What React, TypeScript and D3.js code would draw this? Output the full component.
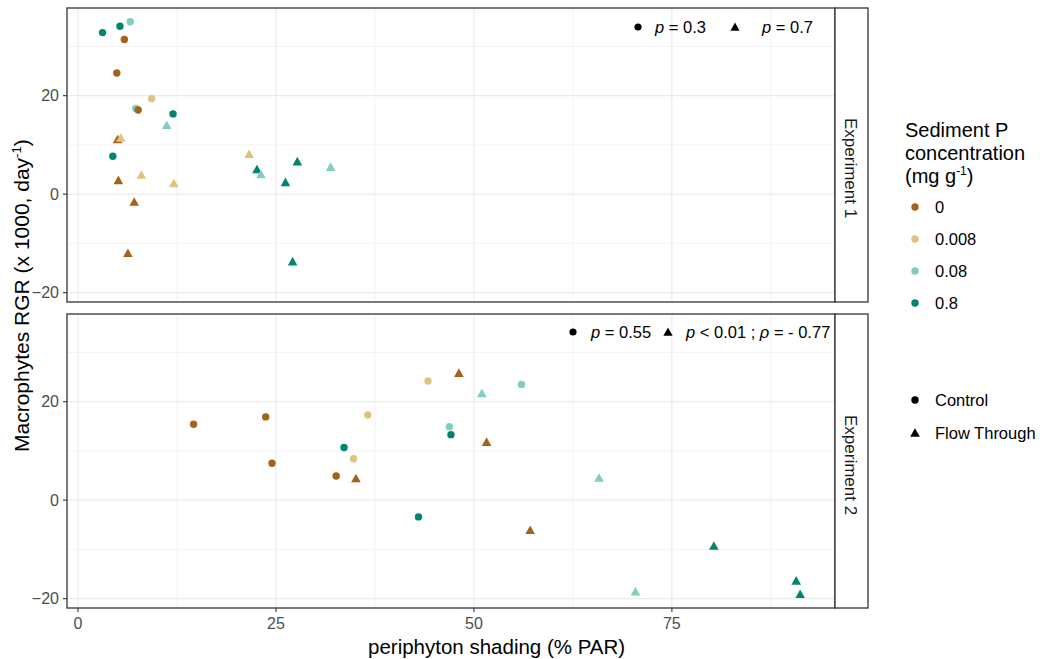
import React from "react";
import * as d3 from "d3";

const concLevels = ["0", "0.008", "0.08", "0.8"];
const concColors = ["#A6611A", "#DFC27D", "#80CDC1", "#018571"];
const treatLevels = ["Control", "Flow Through"];
const panelNames = ["Experiment 1", "Experiment 2"];
const xTicks = [0, 25, 50, 75];
const yTicks = [-20, 0, 20];

// Experiment 1
const exp1Shading = [3.1, 5.3, 6.6, 5.85, 4.9, 9.3, 7.3, 7.6, 12.0, 4.4, 11.2, 5.0, 5.4, 5.1, 8.0, 12.1, 7.1, 6.3, 21.6, 22.6, 23.1, 27.7, 26.2, 31.9, 27.1];
const exp1RGR = [32.8, 34.1, 35.0, 31.4, 24.6, 19.4, 17.4, 17.1, 16.3, 7.7, 14.0, 11.1, 11.4, 2.8, 3.9, 2.2, -1.6, -12.0, 8.1, 5.0, 4.0, 6.6, 2.4, 5.5, -13.7];
const exp1Conc = ["0.8", "0.8", "0.08", "0", "0", "0.008", "0.08", "0", "0.8", "0.8", "0.08", "0", "0.008", "0", "0.008", "0.008", "0", "0", "0.008", "0.8", "0.08", "0.8", "0.8", "0.08", "0.8"];
const exp1Treat = ["Control", "Control", "Control", "Control", "Control", "Control", "Control", "Control", "Control", "Control", "Flow Through", "Flow Through", "Flow Through", "Flow Through", "Flow Through", "Flow Through", "Flow Through", "Flow Through", "Flow Through", "Flow Through", "Flow Through", "Flow Through", "Flow Through", "Flow Through", "Flow Through"];

// Experiment 2
const exp2Shading = [14.6, 23.7, 24.5, 32.6, 36.6, 34.8, 44.2, 56.0, 46.9, 33.6, 47.1, 43.0, 35.1, 48.1, 51.6, 57.1, 51.0, 65.8, 70.4, 80.3, 90.7, 91.2];
const exp2RGR = [15.4, 16.9, 7.5, 4.9, 17.3, 8.4, 24.2, 23.5, 14.9, 10.7, 13.3, -3.4, 4.4, 25.8, 11.8, -6.1, 21.7, 4.5, -18.6, -9.3, -16.4, -19.1];
const exp2Conc = ["0", "0", "0", "0", "0.008", "0.008", "0.008", "0.08", "0.08", "0.8", "0.8", "0.8", "0", "0", "0", "0", "0.08", "0.08", "0.08", "0.8", "0.8", "0.8"];
const exp2Treat = ["Control", "Control", "Control", "Control", "Control", "Control", "Control", "Control", "Control", "Control", "Control", "Control", "Flow Through", "Flow Through", "Flow Through", "Flow Through", "Flow Through", "Flow Through", "Flow Through", "Flow Through", "Flow Through", "Flow Through"];

const FONT = "'Liberation Sans', Arial, Helvetica, sans-serif";

const panelX0 = 67;
const panelX1 = 835;
const panelTops = [8, 314];
const panelH = 294;
const stripTextStart = [118, 415];

const x = d3.scaleLinear().domain([-1.39, 95.6]).range([panelX0, panelX1]);
const color = d3.scaleOrdinal<string, string>().domain(concLevels).range(concColors);

function triPath(cx: number, cy: number, s = 4.8) {
  return `M${cx},${cy - s}L${cx + s * 1.0},${cy + s * 0.8}L${cx - s * 1.0},${cy + s * 0.8}Z`;
}

function Marker({ cx, cy, shape, fill }: { cx: number; cy: number; shape: string; fill: string }) {
  if (shape === "Control") return <circle cx={cx} cy={cy} r={3.7} fill={fill} />;
  return <path d={triPath(cx, cy)} fill={fill} />;
}

export default function App() {
  const panels = [
    { shading: exp1Shading, rgr: exp1RGR, conc: exp1Conc, treat: exp1Treat },
    { shading: exp2Shading, rgr: exp2RGR, conc: exp2Conc, treat: exp2Treat },
  ];
  const minorX = [12.5, 37.5, 62.5, 87.5];
  const minorY = [-10, 10, 30];
  return (
    <svg width={1040} height={659} style={{ position: "absolute", left: 0, top: 0, background: "#fff" }} fontFamily={FONT}>
      <rect width={1040} height={659} fill="#fff" />
      {panels.map((p, i) => {
        const top = panelTops[i];
        const y = d3.scaleLinear().domain([-21.9, 37.8]).range([top + panelH, top]);
        return (
          <g key={i}>
            <rect x={panelX0} y={top} width={panelX1 - panelX0} height={panelH} fill="#fff" />
            {minorX.map((v) => (
              <line key={"mx" + v} x1={x(v)} x2={x(v)} y1={top} y2={top + panelH} stroke="#EBEBEB" strokeWidth={0.6} />
            ))}
            {minorY.map((v) => (
              <line key={"my" + v} x1={panelX0} x2={panelX1} y1={y(v)} y2={y(v)} stroke="#EBEBEB" strokeWidth={0.6} />
            ))}
            {xTicks.map((v) => (
              <line key={"Mx" + v} x1={x(v)} x2={x(v)} y1={top} y2={top + panelH} stroke="#EBEBEB" strokeWidth={1.2} />
            ))}
            {yTicks.map((v) => (
              <line key={"My" + v} x1={panelX0} x2={panelX1} y1={y(v)} y2={y(v)} stroke="#EBEBEB" strokeWidth={1.2} />
            ))}
            {p.shading.map((sx, j) => (
              <Marker key={j} cx={x(sx)} cy={y(p.rgr[j])} shape={p.treat[j]} fill={color(p.conc[j])} />
            ))}
            <rect x={panelX0} y={top} width={panelX1 - panelX0} height={panelH} fill="none" stroke="#333333" strokeWidth={1.3} />
            {yTicks.map((v) => (
              <g key={"yt" + v}>
                <line x1={panelX0 - 4} x2={panelX0} y1={y(v)} y2={y(v)} stroke="#333333" strokeWidth={1.1} />
                <text x={panelX0 - 8} y={y(v)} dy="0.36em" textAnchor="end" fontSize={16} fill="#4D4D4D">
                  {v < 0 ? "\u2212" + Math.abs(v) : v}
                </text>
              </g>
            ))}
            <rect x={panelX1} y={top} width={33} height={panelH} fill="#fff" stroke="#333333" strokeWidth={1.3} />
            <text
              transform={`translate(${panelX1 + 16.5},${stripTextStart[i]}) rotate(90)`}
              textAnchor="start"
              dy="0.36em"
              fontSize={17}
              fill="#1A1A1A"
            >
              {panelNames[i]}
            </text>
          </g>
        );
      })}
      {xTicks.map((v) => (
        <g key={"xt" + v}>
          <line x1={x(v)} x2={x(v)} y1={panelTops[1] + panelH} y2={panelTops[1] + panelH + 4} stroke="#333333" strokeWidth={1.1} />
          <text x={x(v)} y={629} textAnchor="middle" fontSize={16} fill="#4D4D4D">
            {v}
          </text>
        </g>
      ))}
      <text x={368} y={654} textAnchor="start" fontSize={20.5} fill="#000">
        periphyton shading (% PAR)
      </text>
      <text transform={`translate(29,452) rotate(-90)`} textAnchor="start" fontSize={21} fill="#000">
        Macrophytes RGR (x 1000, day
        <tspan fontSize={13} dy={-8}>-1</tspan>
        <tspan dy={8}>)</tspan>
      </text>
      <g fontSize={16.5} fill="#000">
        <circle cx={638} cy={27} r={3.6} fill="#000" />
        <text x={655} y={33}>
          <tspan fontStyle="italic">p</tspan> = 0.3
        </text>
        <path d={triPath(735, 27, 4.6)} fill="#000" />
        <text x={762} y={33}>
          <tspan fontStyle="italic">p</tspan> = 0.7
        </text>
        <circle cx={573} cy={332} r={3.6} fill="#000" />
        <text x={591} y={338}>
          <tspan fontStyle="italic">p</tspan> = 0.55
        </text>
        <path d={triPath(668, 332, 4.6)} fill="#000" />
        <text x={686} y={338}>
          <tspan fontStyle="italic">p</tspan> &lt; 0.01 ; <tspan fontStyle="italic">ρ</tspan> = - 0.77
        </text>
      </g>
      <g fontSize={20} fill="#000">
        <text x={905} y={137}>Sediment P</text>
        <text x={905} y={160}>concentration</text>
        <text x={905} y={183}>
          (mg g<tspan fontSize={12} dy={-8}>-1</tspan>
          <tspan dy={8}>)</tspan>
        </text>
      </g>
      {concLevels.map((c, k) => (
        <g key={c}>
          <circle cx={915} cy={207 + k * 32} r={3.7} fill={color(c)} />
          <text x={935} y={207 + k * 32} dy="0.36em" fontSize={16.5} fill="#000">
            {c}
          </text>
        </g>
      ))}
      {treatLevels.map((t, k) => (
        <g key={t}>
          <Marker cx={915} cy={400 + k * 33} shape={t} fill="#000" />
          <text x={935} y={400 + k * 33} dy="0.36em" fontSize={16.5} fill="#000">
            {t}
          </text>
        </g>
      ))}
    </svg>
  );
}
